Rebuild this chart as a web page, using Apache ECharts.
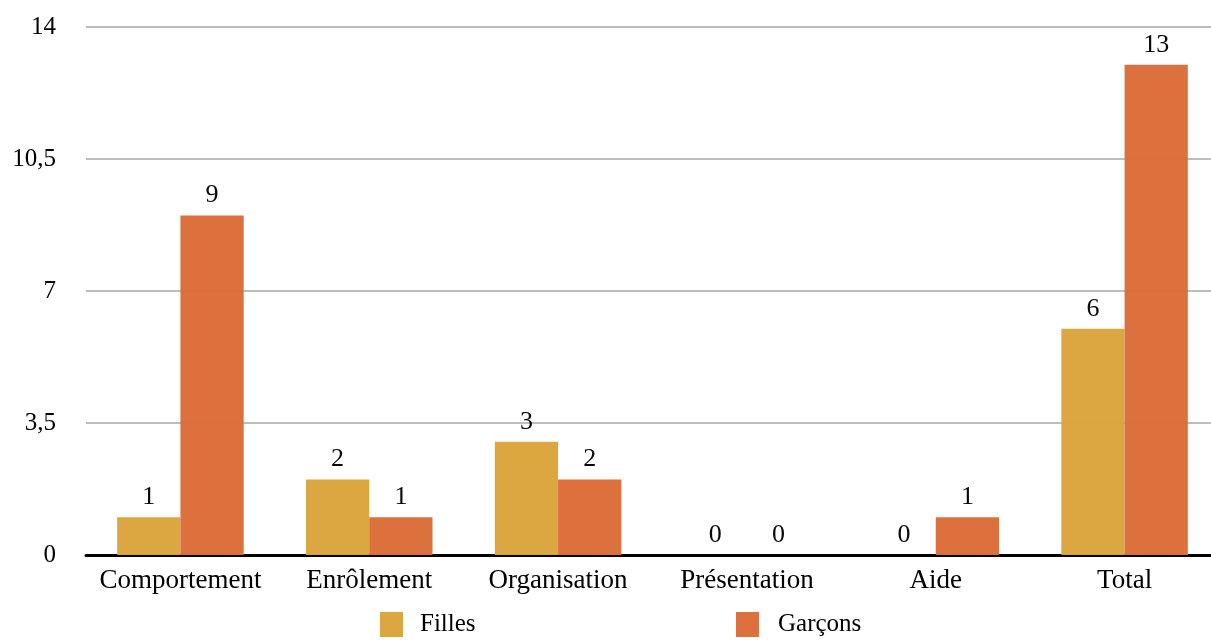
<!DOCTYPE html>
<html><head><meta charset="utf-8">
<script src="https://cdn.jsdelivr.net/npm/echarts@6/dist/echarts.min.js"></script>
<style>html,body{margin:0;padding:0;background:#fff;overflow:hidden}#c{width:1219px;height:640px}</style>
</head><body><div id="c"></div>
<script>
const categories = ['Comportement', 'Enrôlement', 'Organisation', 'Présentation', 'Aide', 'Total'];
const filles = [1, 2, 3, 0, 0, 6];
const garcons = [9, 1, 2, 0, 1, 13];
const seriesNames = ['Filles', 'Garçons'];

const font = '"Liberation Serif", "Times New Roman", serif';
const chart = echarts.init(document.getElementById('c'));
const labelCfg = {show: true, position: 'top', distance: 7, color: '#000', fontFamily: font, fontSize: 26};
chart.setOption({
  animation: false,
  grid: {left: 86, right: 0, top: 27, bottom: 85},
  legend: [
    {data: [seriesNames[0]], left: 380, top: 612, padding: 0, itemWidth: 23, itemHeight: 25, icon: 'rect',
     textStyle: {fontFamily: font, fontSize: 25, color: '#000', padding: [6,0,0,12]}},
    {data: [seriesNames[1]], left: 736, top: 612, padding: 0, itemWidth: 23, itemHeight: 25, icon: 'rect',
     textStyle: {fontFamily: font, fontSize: 25, color: '#000', padding: [6,0,0,14]}}
  ],
  xAxis: {
    type: 'category', data: categories,
    axisLine: {lineStyle: {color: '#000', width: 3}},
    axisTick: {show: false},
    axisLabel: {fontFamily: font, fontSize: 27, color: '#000', margin: 12, interval: 0}
  },
  yAxis: {
    type: 'value', min: 0, max: 14, interval: 3.5,
    axisLine: {show: false}, axisTick: {show: false},
    splitLine: {lineStyle: {color: '#bdbdbd', width: 2}},
    axisLabel: {fontFamily: font, fontSize: 25, color: '#000', margin: 30, padding: [6,0,0,0],
      formatter: v => String(v).replace('.', ',')}
  },
  series: [
    {name: seriesNames[0], type: 'bar', data: filles, barGap: 0, barCategoryGap: '33%',
     itemStyle: {color: '#dba43a', opacity: 0.97}, label: labelCfg},
    {name: seriesNames[1], type: 'bar', data: garcons, barGap: 0, barCategoryGap: '33%',
     itemStyle: {color: '#dc6c37', opacity: 0.97}, label: labelCfg}
  ]
});
</script></body></html>
